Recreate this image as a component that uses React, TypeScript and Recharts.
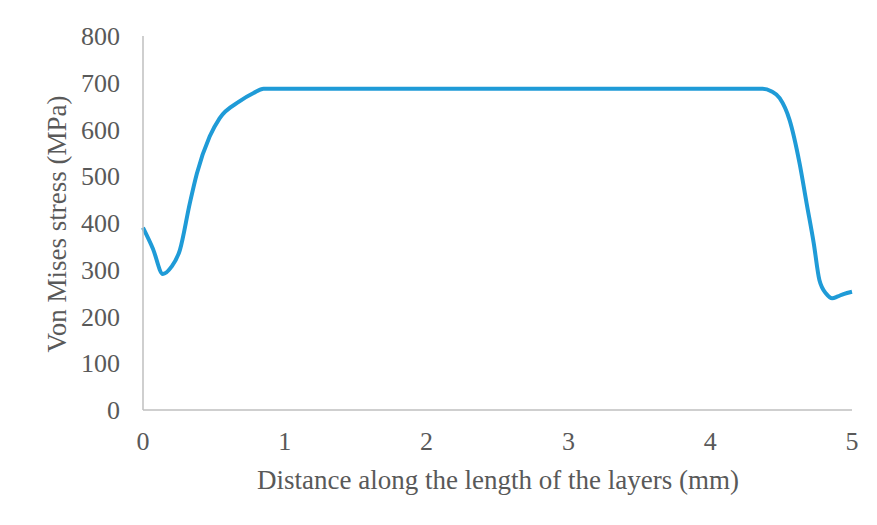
import React from "react";
import { LineChart, Line, XAxis, YAxis, Label } from "recharts";

const distanceMm = [0, 0.07, 0.14, 0.2, 0.26, 0.33, 0.38, 0.47, 0.54, 0.68, 0.78, 0.85, 1.5, 2.5, 3.5, 4.37, 4.43, 4.49, 4.56, 4.63, 4.68, 4.73, 4.77, 4.82, 4.86, 4.9, 4.94, 5.0];
const stressMPa = [390, 345, 291, 306, 342, 442, 506, 585, 624, 660, 678, 687, 687, 687, 687, 687, 682, 667, 620, 528, 442, 357, 278, 248, 239, 243, 248, 253];
const xTicks = [0, 1, 2, 3, 4, 5];
const yTicks = [0, 100, 200, 300, 400, 500, 600, 700, 800];

const data = distanceMm.map((d, i) => ({ d, s: stressMPa[i] }));

const FONT = "'Liberation Serif', 'Times New Roman', serif";
const TICK_COLOR = "#595959";

const YTitle = (props: any) => {
  const x = 66;
  const y = 224;
  return (
    <text
      x={x}
      y={y}
      transform={`rotate(-90, ${x}, ${y})`}
      textAnchor="middle"
      fontFamily={FONT}
      fontSize={27}
      fill={TICK_COLOR}
    >
      Von Mises stress (MPa)
    </text>
  );
};

const XTitle = (props: any) => {
  return (
    <text
      x={498}
      y={489}
      textAnchor="middle"
      fontFamily={FONT}
      fontSize={27}
      fill={TICK_COLOR}
    >
      Distance along the length of the layers (mm)
    </text>
  );
};

export default function App() {
  return (
    <div style={{ margin: -8, width: 877, height: 525, position: "relative", overflow: "hidden", background: "#fff" }}>
      <div
        style={{
          position: "absolute",
          left: 7,
          top: 5,
          width: 900,
          height: 600,
          border: "1px solid #d9d9d9",
          boxSizing: "border-box",
        }}
      />
      <div style={{ position: "absolute", left: 0, top: 0 }}>
        <LineChart width={877} height={525} data={data} margin={{ top: 36, right: 25, bottom: 0, left: 0 }}>
          <XAxis
            type="number"
            dataKey="d"
            domain={[0, 5]}
            ticks={xTicks}
            tickLine={false}
            tickSize={0}
            tickMargin={22}
            height={115}
            axisLine={{ stroke: "#bfbfbf", strokeWidth: 1.5 }}
            tick={{ fontFamily: FONT, fontSize: 26, fill: TICK_COLOR }}
            interval={0}
          >
            <Label content={<XTitle />} />
          </XAxis>
          <YAxis
            type="number"
            domain={[0, 800]}
            ticks={yTicks}
            tickLine={false}
            tickSize={0}
            tickMargin={23}
            width={143}
            axisLine={{ stroke: "#bfbfbf", strokeWidth: 1.5 }}
            tick={{ fontFamily: FONT, fontSize: 26, fill: TICK_COLOR }}
            interval={0}
          >
            <Label content={<YTitle />} />
          </YAxis>
          <Line
            type="monotone"
            dataKey="s"
            stroke="#1f9bd7"
            strokeWidth={4}
            dot={false}
            isAnimationActive={false}
          />
        </LineChart>
      </div>
    </div>
  );
}
